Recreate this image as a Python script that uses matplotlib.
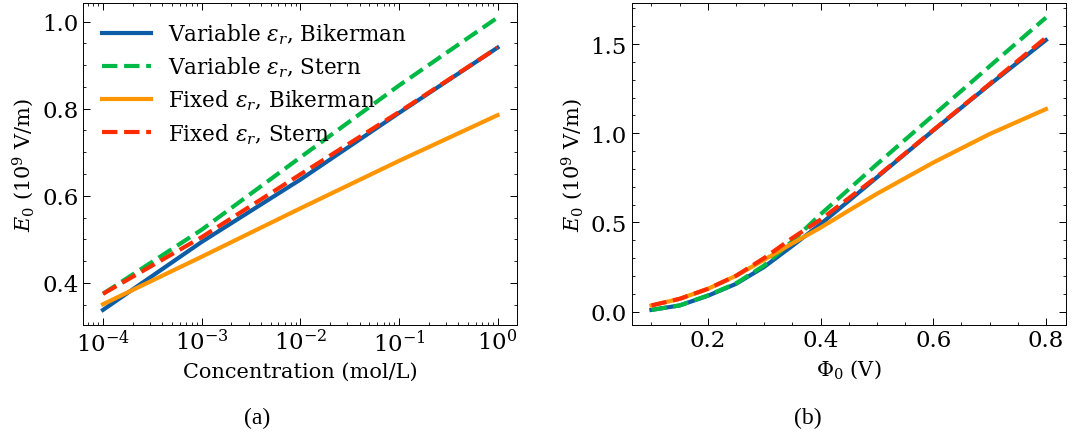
import numpy as np
import matplotlib
matplotlib.use("Agg")
import matplotlib.pyplot as plt
from matplotlib.ticker import AutoMinorLocator

plt.rcParams['font.family'] = ['DejaVu Serif']
plt.rcParams['mathtext.fontset'] = 'dejavuserif'
plt.rcParams['font.size'] = 15

# Panel (a): concentration (mol/L)
conc = [1e-4, 1e-3, 1e-2, 1e-1, 1e0]
a_var_bik = [0.338, 0.494, 0.637, 0.790, 0.940]
a_var_stern = [0.375, 0.522, 0.688, 0.853, 1.009]
a_fix_bik = [0.351, 0.460, 0.571, 0.680, 0.785]
a_fix_stern = [0.375, 0.505, 0.649, 0.792, 0.940]

# Panel (b): surface potential (V)
phi = [0.10, 0.15, 0.20, 0.25, 0.30, 0.35, 0.40, 0.45, 0.50, 0.60, 0.70, 0.80]
b_var_bik = [0.009, 0.034, 0.088, 0.155, 0.250, 0.368, 0.490, 0.620, 0.752, 1.015, 1.272, 1.522]
b_var_stern = [0.009, 0.034, 0.090, 0.158, 0.258, 0.395, 0.545, 0.685, 0.826, 1.100, 1.375, 1.648]
b_fix_bik = [0.034, 0.071, 0.127, 0.200, 0.290, 0.382, 0.470, 0.566, 0.660, 0.835, 0.995, 1.135]
b_fix_stern = [0.034, 0.071, 0.127, 0.200, 0.300, 0.412, 0.515, 0.635, 0.756, 1.017, 1.276, 1.536]

labels = [r"Variable $\varepsilon_r$, Bikerman", r"Variable $\varepsilon_r$, Stern",
          r"Fixed $\varepsilon_r$, Bikerman", r"Fixed $\varepsilon_r$, Stern"]
colors = ['#0C5DA5', '#00B945', '#FF9500', '#FF2C00']
styles = ['-', '--', '-', '--']
lw = 3.0

fig = plt.figure(figsize=(10.76, 4.39), dpi=100)
ax1 = fig.add_axes([0.0774, 0.2585, 0.4033, 0.7324])
ax2 = fig.add_axes([0.5871, 0.2585, 0.4033, 0.7324])

for ys, c, s, l in zip([a_var_bik, a_var_stern, a_fix_bik, a_fix_stern], colors, styles, labels):
    ax1.plot(conc, ys, color=c, ls=s, lw=lw, label=l)
ax1.set_xscale('log')
ax1.set_xlabel('Concentration (mol/L)')
ax1.set_ylabel(r'$E_0$ ($10^9$ V/m)')
ax1.set_yticks([0.4, 0.6, 0.8, 1.0])
ax1.legend(loc='upper left', frameon=False, handlelength=2.3, borderaxespad=0.45,
           labelspacing=0.4, fontsize=15.5)

for ys, c, s in zip([b_var_bik, b_var_stern, b_fix_bik, b_fix_stern], colors, styles):
    ax2.plot(phi, ys, color=c, ls=s, lw=lw)
ax2.set_xlabel(r'$\Phi_0$ (V)')
ax2.set_ylabel(r'$E_0$ ($10^9$ V/m)')
ax2.set_xticks([0.2, 0.4, 0.6, 0.8])
ax2.set_yticks([0.0, 0.5, 1.0, 1.5])

for ax in (ax1, ax2):
    ax.tick_params(which='both', direction='in', top=True, right=True, labelsize=16.5)
    ax.tick_params(which='major', length=5, width=0.7)
    ax.tick_params(which='minor', length=2.5, width=0.6)
    for sp in ax.spines.values():
        sp.set_linewidth(0.7)
ax2.xaxis.set_minor_locator(AutoMinorLocator(4))
ax2.yaxis.set_minor_locator(AutoMinorLocator(5))
ax1.yaxis.set_minor_locator(AutoMinorLocator(4))

fig.text(257 / 1076, 1 - 418 / 439, '(a)', ha='center', va='center', fontsize=17,
         family='Liberation Serif')
fig.text(808 / 1076, 1 - 418 / 439, '(b)', ha='center', va='center', fontsize=17,
         family='Liberation Serif')

fig.savefig('out.png', dpi=100)
